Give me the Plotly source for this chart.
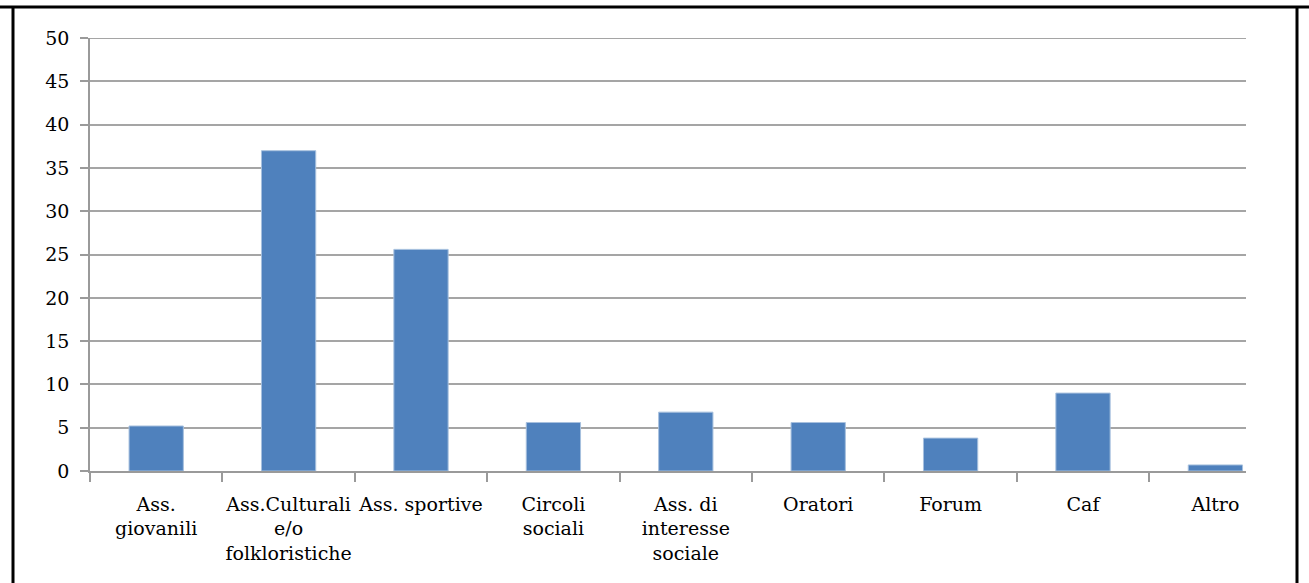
import plotly.graph_objects as go

categories = ["Ass.<br>giovanili", "Ass.Culturali<br>e/o<br>folkloristiche", "Ass. sportive",
              "Circoli<br>sociali", "Ass. di<br>interesse<br>sociale", "Oratori", "Forum", "Caf", "Altro"]
values = [5.2, 37.0, 25.6, 5.6, 6.8, 5.6, 3.8, 9.0, 0.7]
y_ticks = [0, 5, 10, 15, 20, 25, 30, 35, 40, 45, 50]

W, H = 1309, 583
L, R, T, B = 90, 63, 38, 112
pw, ph = W - L - R, H - T - B
cat_w = 132.4  # pixel width of one category slot

def px_x(p):
    return (p - L) / pw

def px_y(p):
    return (H - B - p) / ph

fig = go.Figure(go.Bar(
    x=categories, y=values,
    marker=dict(color="#4F81BD", line=dict(color="#A7C0DE", width=1)),
))

fig.update_layout(
    width=W, height=H,
    margin=dict(l=L, r=R, t=T, b=B),
    paper_bgcolor="white", plot_bgcolor="white",
    bargap=0.59,
    showlegend=False,
    font=dict(family="DejaVu Serif", size=19, color="black"),
    xaxis=dict(
        type="category", range=[-0.5, -0.5 + pw / cat_w],
        showgrid=False, showline=True, linecolor="#9A9A9A", linewidth=1.5,
        ticks="outside", tickson="boundaries", ticklen=9, tickcolor="#9A9A9A", tickwidth=1.5,
        tickfont=dict(size=19), tickangle=0, ticklabelstandoff=15,
    ),
    yaxis=dict(
        range=[0, 50.02], tickvals=y_ticks, showgrid=True, gridcolor="#A5A5A5", gridwidth=1.5,
        showline=True, linecolor="#9A9A9A", linewidth=1.5,
        ticks="outside", ticklen=8, tickcolor="#9A9A9A", tickwidth=1.5,
        tickfont=dict(size=19), ticklabelstandoff=7, zeroline=False,
    ),
    shapes=[
        dict(type="line", xref="paper", yref="y", x0=0, x1=1, y0=y_ticks[-1], y1=y_ticks[-1],
             line=dict(color="#A5A5A5", width=1.5), layer="below"),
        dict(type="line", xref="paper", yref="paper", x0=px_x(0), x1=px_x(W), y0=px_y(7), y1=px_y(7),
             line=dict(color="black", width=3)),
        dict(type="line", xref="paper", yref="paper", x0=px_x(13), x1=px_x(13), y0=px_y(7), y1=px_y(H + 5),
             line=dict(color="black", width=3)),
        dict(type="line", xref="paper", yref="paper", x0=px_x(1297), x1=px_x(1297), y0=px_y(7), y1=px_y(H + 5),
             line=dict(color="black", width=3)),
    ],
)

fig.write_html("out.html")
